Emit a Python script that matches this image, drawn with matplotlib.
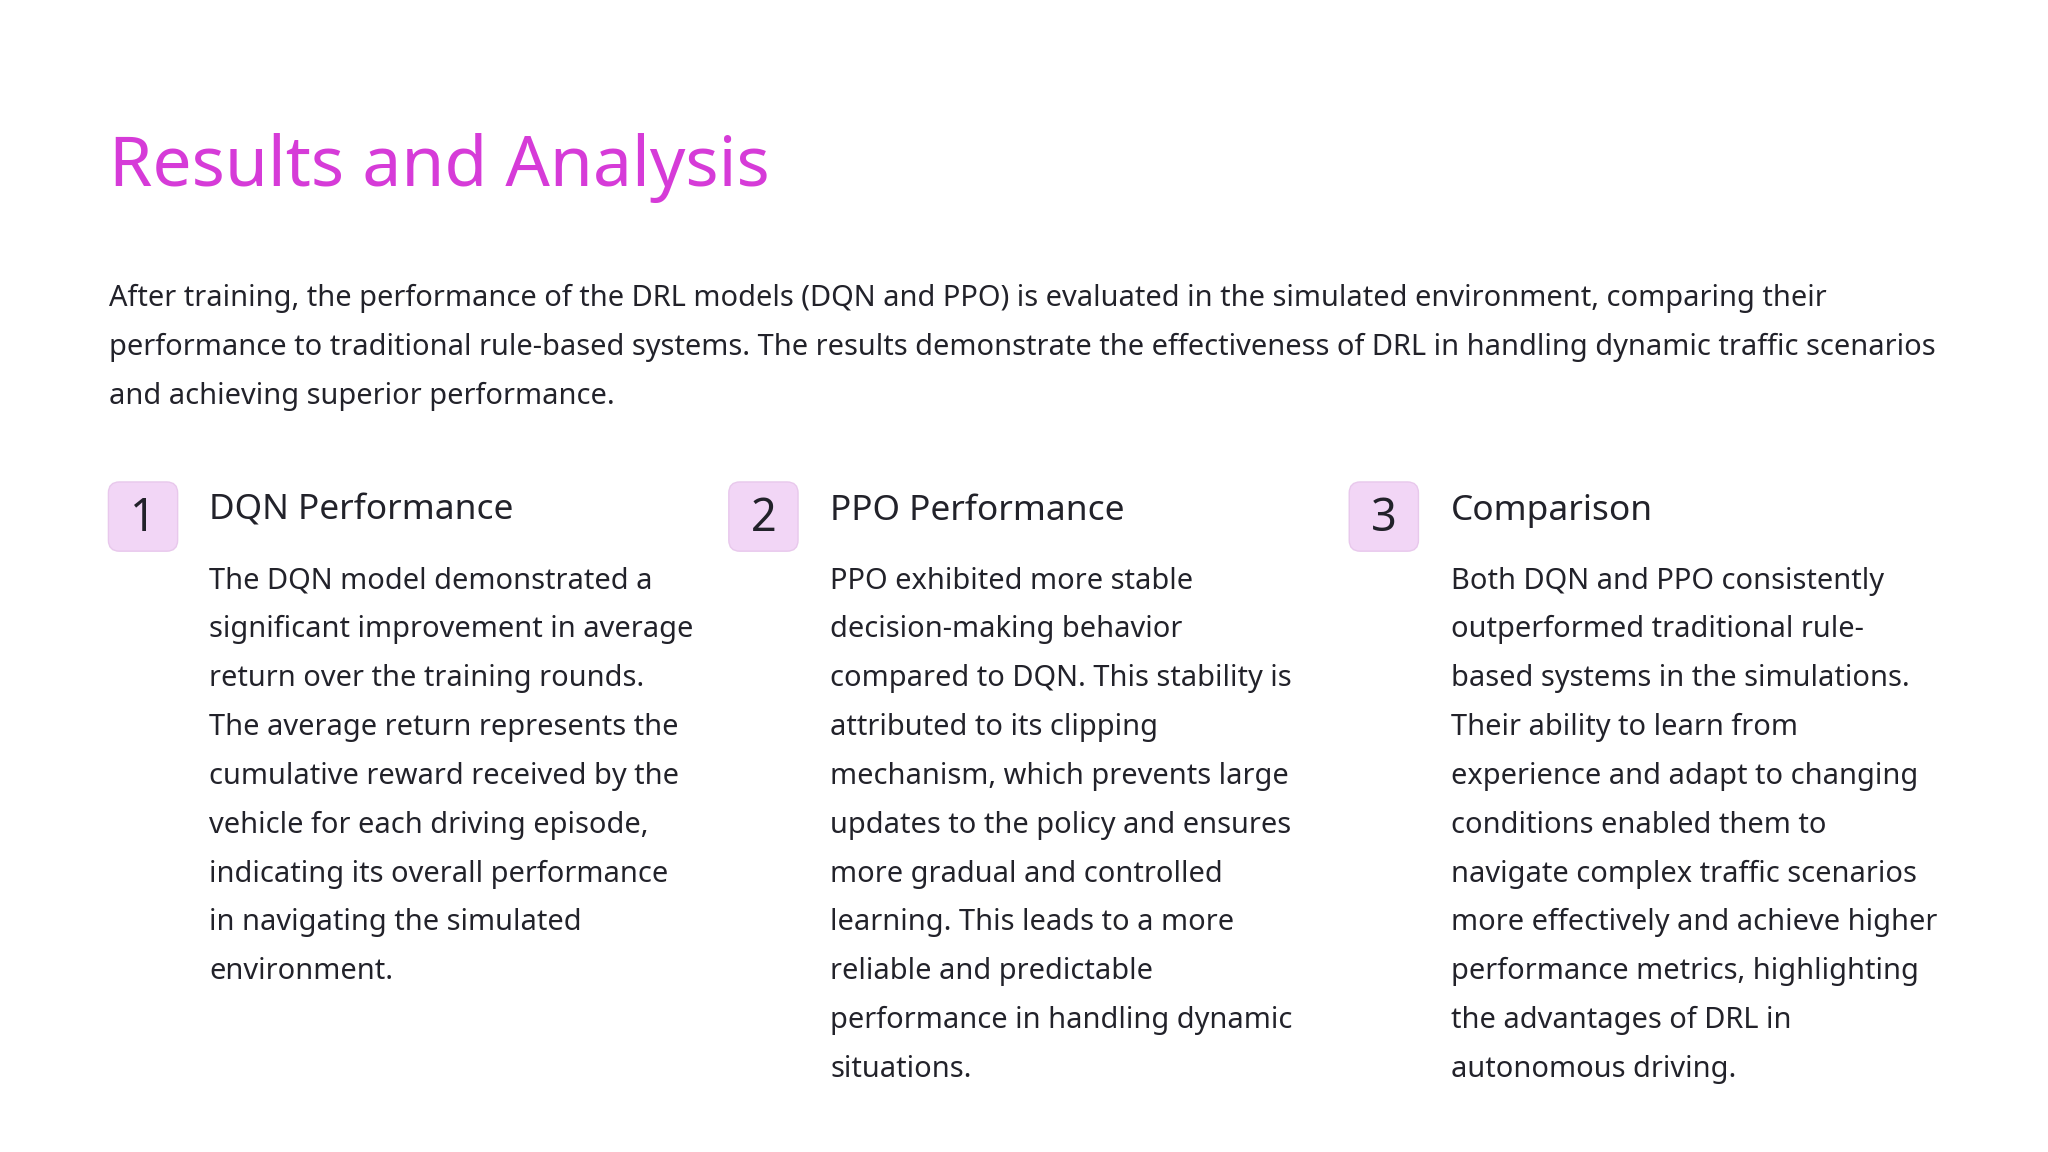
import matplotlib
matplotlib.use("Agg")
import matplotlib.pyplot as plt
from matplotlib.patches import FancyBboxPatch

FONT = "Noto Sans"
TITLE = "Results and Analysis"
INTRO = [
    "After training, the performance of the DRL models (DQN and PPO) is evaluated in the simulated environment, comparing their",
    "performance to traditional rule-based systems. The results demonstrate the effectiveness of DRL in handling dynamic traffic scenarios",
    "and achieving superior performance.",
]
NUMBERS = ["1", "2", "3"]
HEADINGS = ["DQN Performance", "PPO Performance", "Comparison"]
BODY_1 = ["The DQN model demonstrated a", "significant improvement in average", "return over the training rounds.",
          "The average return represents the", "cumulative reward received by the", "vehicle for each driving episode,",
          "indicating its overall performance", "in navigating the simulated", "environment."]
BODY_2 = ["PPO exhibited more stable", "decision-making behavior", "compared to DQN. This stability is",
          "attributed to its clipping", "mechanism, which prevents large", "updates to the policy and ensures",
          "more gradual and controlled", "learning. This leads to a more", "reliable and predictable",
          "performance in handling dynamic", "situations."]
BODY_3 = ["Both DQN and PPO consistently", "outperformed traditional rule-", "based systems in the simulations.",
          "Their ability to learn from", "experience and adapt to changing", "conditions enabled them to",
          "navigate complex traffic scenarios", "more effectively and achieve higher", "performance metrics, highlighting",
          "the advantages of DRL in", "autonomous driving."]
BODIES = [BODY_1, BODY_2, BODY_3]

S = 2048 / 1568
fig = plt.figure(figsize=(20.48, 11.52), dpi=100, facecolor="white")
ax = fig.add_axes([0, 0, 1, 1])
ax.set_xlim(0, 2048); ax.set_ylim(1152, 0); ax.axis("off")

ax.text(83.5*S, 142.5*S, TITLE, family=FONT, fontsize=50.2, color="#D63BD8", va="baseline")
for i, line in enumerate(INTRO):
    ax.text(83.5*S, (234.3 + i*37.4)*S, line, family=FONT, fontsize=20.87, color="#22222A", va="baseline")

col_box = [83, 558, 1033]
col_text = [160.2, 635.5, 1111]
for k in range(3):
    p = FancyBboxPatch((col_box[k]*S + 11, 369*S + 11), 53*S - 22, 53*S - 22,
                       boxstyle="round,pad=11,rounding_size=11", fc="#F2D6F6", ec="#E8C8EC", lw=1.0)
    ax.add_patch(p)
    ax.text((col_box[k] + 26.5)*S, 406.5*S, NUMBERS[k], family=FONT, fontsize=32.5, color="#22222A", ha="center", va="baseline")
    ax.text(col_text[k]*S, 398*S, HEADINGS[k], family=FONT, fontsize=25.4, color="#22222A", va="baseline")
    for i, line in enumerate(BODIES[k]):
        ax.text(col_text[k]*S, (450.6 + i*37.4)*S, line, family=FONT, fontsize=20.87, color="#22222A", va="baseline")

fig.savefig("out.png", dpi=100, facecolor="white")
